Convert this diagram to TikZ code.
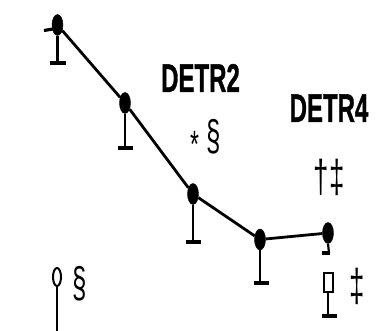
\documentclass[tikz,border=0pt]{standalone}
\usepackage{fontspec}
\setmainfont{Liberation Sans}
\newfontfamily\heavyfont{Liberation Sans Bold}[FakeBold=1.2]
\usetikzlibrary{shapes.geometric}
\tikzset{
  dot/.style={draw, fill, ellipse, minimum width=11pt, minimum height=21pt, inner sep=0pt},
  stem/.style={line width=2.2pt},
  foot/.style={line width=3.2pt},
  link/.style={line width=2.8pt},
  lbl/.style={inner sep=0pt, anchor=base, font=\fontsize{46}{46}\selectfont},
  lblb/.style={inner sep=0pt, anchor=base, font=\fontsize{40}{40}\heavyfont},
}
\newcommand{\narrow}[1]{\scalebox{0.6}[1]{#1}}
\begin{document}
\begin{tikzpicture}[x=1pt, y=-1pt]
\useasboundingbox (0,0) rectangle (385,331);
% dots
\node[dot] (p1) at (57.5,25) {};
\node[dot] (p2) at (125,103) {};
\node[dot] (p3) at (193,194) {};
\node[dot] (p4) at (260,239.5) {};
\node[dot] (p5) at (328,233) {};
\draw[link] (p1) -- (p2);
\draw[link] (p2) -- (p3);
\draw[link] (p3) -- (p4);
\draw[link] (p4) -- (p5);
% stems and feet
\coordinate (f1) at (57.5,63);
\coordinate (f2) at (125,148);
\coordinate (f3) at (193,242);
\coordinate (f4) at (260,283);
\draw[stem] (p1.south) -- (f1);
\draw[foot] ([xshift=-7.5pt]f1) -- ([xshift=8.5pt]f1);
\draw[foot] (44,30.5) -- (53,29);
\draw[stem] (p2.south) -- (f2);
\draw[foot] ([xshift=-7pt]f2) -- ([xshift=8pt]f2);
\draw[stem] (p3.south) -- (f3);
\draw[foot] ([xshift=-7pt]f3) -- ([xshift=8pt]f3);
\draw[stem] (p4.south) -- (f4);
\draw[foot] ([xshift=-6pt]f4) -- ([xshift=9pt]f4);
% hook under p5
\coordinate (h5) at (329,253);
\draw[stem] (p5.south) -- (h5);
\draw[foot] ([xshift=1pt]h5) -- ([xshift=-7pt]h5);
% rectangle symbol
\node[draw, line width=2pt, minimum width=9pt, minimum height=19pt, inner sep=0pt] (r) at (328,282.5) {};
\coordinate (fr) at (328,316);
\draw[stem] (r.south) -- (fr);
\draw[foot] ([xshift=-6pt]fr) -- ([xshift=9pt]fr);
% circle symbol
\node[draw, ellipse, line width=2pt, minimum width=8pt, minimum height=18pt, inner sep=0pt] (o) at (57,277) {};
\coordinate (fo) at (57,331);
\draw[stem] (o.south) -- (fo);
% labels
\node[lblb] (d2) at (200.5,92) {\narrow{DETR2}};
\node[lblb] (d4) at (329,122) {\narrow{DETR4}};
\node[lbl, font=\fontsize{43}{43}\selectfont] (s2) at (206,150) {\narrow{\raisebox{-8pt}{\fontsize{38}{38}\selectfont *} §}};
\node[lbl] (s4) at (329,193) {\narrow{†‡}};
\node[lbl, font=\fontsize{43}{43}\selectfont] (so) at (80,297) {\narrow{§}};
\node[lbl] (sr) at (357.5,301) {\narrow{‡}};
\end{tikzpicture}
\end{document}
